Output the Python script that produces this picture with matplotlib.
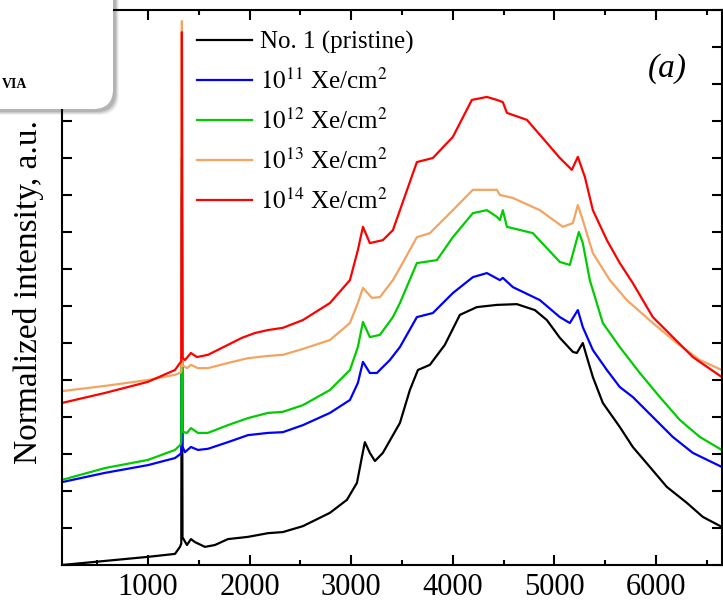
import matplotlib
matplotlib.use("Agg")
import matplotlib.pyplot as plt
from matplotlib.patches import FancyBboxPatch
from matplotlib.transforms import IdentityTransform
from matplotlib.ticker import MultipleLocator, NullFormatter

plt.rcParams['font.family'] = ['Liberation Serif', 'DejaVu Serif']
plt.rcParams['mathtext.fontset'] = 'stix'

# wavenumber (cm-1) / normalized intensity (a.u., offset)
black_x = [154, 577, 1000, 1266, 1315, 1328, 1334, 1340, 1384, 1423, 1462, 1561, 1659,
           1787, 1984, 2181, 2328, 2525, 2791, 2958, 3057, 3106, 3135, 3184, 3234, 3312,
           3480, 3578, 3657, 3775, 3922, 4070, 4237, 4434, 4631, 4808, 4926, 5054, 5182,
           5221, 5280, 5320, 5379, 5477, 5644, 5772, 5940, 6107, 6304, 6461, 6648]
black_y = [0.00, 0.11, 0.22, 0.30, 0.49, 0.58, 9.0, 0.75, 0.54, 0.70, 0.62, 0.49, 0.54,
           0.70, 0.76, 0.86, 0.89, 1.05, 1.41, 1.76, 2.22, 2.92, 3.32, 3.03, 2.81, 3.03,
           3.84, 4.73, 5.27, 5.41, 5.95, 6.76, 6.97, 7.03, 7.05, 6.89, 6.62, 6.14, 5.76,
           5.73, 6.00, 5.62, 5.08, 4.38, 3.73, 3.19, 2.65, 2.11, 1.68, 1.30, 1.03]

blue_x = [154, 577, 1000, 1266, 1320, 1328, 1334, 1340, 1364, 1423, 1492, 1590, 1787,
          1984, 2181, 2328, 2525, 2791, 2988, 3066, 3116, 3184, 3253, 3381, 3480, 3647,
          3804, 4001, 4198, 4336, 4464, 4493, 4592, 4857, 5054, 5152, 5231, 5280, 5379,
          5517, 5644, 5772, 5969, 6166, 6363, 6648]
blue_y = [2.24, 2.49, 2.70, 2.89, 3.00, 3.05, 10.0, 3.20, 3.05, 3.19, 3.11, 3.14, 3.32,
          3.51, 3.57, 3.59, 3.78, 4.11, 4.46, 4.92, 5.49, 5.19, 5.19, 5.54, 5.89, 6.70,
          6.81, 7.35, 7.78, 7.89, 7.70, 7.76, 7.51, 7.16, 6.70, 6.54, 6.89, 6.43, 5.81,
          5.27, 4.81, 4.54, 4.00, 3.46, 3.03, 2.65]

green_x = [154, 577, 1000, 1266, 1320, 1328, 1334, 1340, 1384, 1423, 1492, 1590, 1787,
           1984, 2181, 2328, 2525, 2791, 2988, 3066, 3116, 3184, 3283, 3411, 3480, 3647,
           3844, 4001, 4198, 4336, 4434, 4464, 4493, 4533, 4788, 5054, 5152, 5241, 5280,
           5349, 5477, 5644, 5841, 6038, 6235, 6432, 6648]
green_y = [2.30, 2.62, 2.84, 3.11, 3.25, 3.35, 11.0, 3.60, 3.57, 3.70, 3.57, 3.57, 3.78,
           3.97, 4.11, 4.14, 4.32, 4.73, 5.27, 5.89, 6.57, 6.16, 6.22, 6.70, 7.08, 8.16,
           8.24, 8.86, 9.51, 9.59, 9.41, 9.32, 9.59, 9.14, 8.97, 8.19, 8.11, 9.00, 8.70,
           7.70, 6.54, 5.89, 5.19, 4.54, 3.92, 3.46, 3.11]

orange_x = [154, 577, 1000, 1266, 1320, 1328, 1334, 1340, 1384, 1423, 1492, 1590, 1787,
            1984, 2181, 2328, 2525, 2791, 2988, 3066, 3116, 3204, 3283, 3411, 3480, 3647,
            3775, 4001, 4198, 4434, 4464, 4592, 4857, 5083, 5182, 5231, 5280, 5379, 5546,
            5713, 5969, 6205, 6432, 6648]
orange_y = [4.70, 4.84, 5.00, 5.14, 5.20, 5.25, 14.7, 5.40, 5.32, 5.41, 5.32, 5.32, 5.46,
            5.59, 5.65, 5.68, 5.84, 6.08, 6.54, 7.08, 7.49, 7.22, 7.24, 7.70, 8.03, 8.86,
            8.97, 9.59, 10.14, 10.14, 10.00, 9.92, 9.59, 9.14, 9.24, 9.73, 9.32, 8.43, 7.70,
            7.16, 6.54, 6.00, 5.54, 5.27]

red_x = [154, 577, 1000, 1266, 1315, 1328, 1334, 1340, 1364, 1423, 1482, 1590, 1787,
         1925, 2053, 2181, 2328, 2525, 2791, 2988, 3066, 3116, 3184, 3312, 3411, 3647,
         3804, 4001, 4188, 4336, 4434, 4493, 4533, 4730, 4926, 5054, 5172, 5231, 5300,
         5379, 5517, 5644, 5772, 5969, 6166, 6363, 6648]
red_y = [4.38, 4.65, 4.95, 5.27, 5.46, 5.50, 14.4, 5.60, 5.54, 5.73, 5.62, 5.68, 5.95,
         6.14, 6.27, 6.35, 6.41, 6.62, 7.08, 7.70, 8.51, 9.14, 8.70, 8.78, 9.05, 10.89,
         11.00, 11.57, 12.57, 12.65, 12.57, 12.51, 12.22, 12.03, 11.41, 11.00, 10.68, 11.03,
         10.49, 9.59, 8.78, 8.16, 7.62, 6.70, 6.16, 5.62, 5.08]

labels = ['No. 1 (pristine)', r'$10^{11}$ Xe/cm$^{2}$', r'$10^{12}$ Xe/cm$^{2}$',
          r'$10^{13}$ Xe/cm$^{2}$', r'$10^{14}$ Xe/cm$^{2}$']
colors = ['black', '#0000ff', '#00cc00', '#f4a460', '#ff0000']
series = [(black_x, black_y), (blue_x, blue_y), (green_x, green_y),
          (orange_x, orange_y), (red_x, red_y)]

fig = plt.figure(figsize=(7.23, 6.05), dpi=100)
ax = fig.add_axes([62 / 723, 40 / 605, 660 / 723, 555 / 605])

for (x, y), c, lab in zip(series, colors, labels):
    ax.plot(x, y, color=c, lw=1.6, label=lab)

ax.set_xlim(154, 6650)
ax.set_ylim(0, 15)
ax.xaxis.set_major_locator(MultipleLocator(1000))
ax.xaxis.set_minor_locator(MultipleLocator(500))
ax.yaxis.set_major_locator(MultipleLocator(1))
ax.yaxis.set_major_formatter(NullFormatter())
ax.tick_params(which='both', direction='in', top=True, right=True, width=1.5)
ax.tick_params(which='major', length=7, labelsize=22, pad=6)
ax.tick_params(which='minor', length=3.5)
for s in ax.spines.values():
    s.set_linewidth(1.5)

ax.legend(loc='upper left', bbox_to_anchor=(0.204, 0.962), frameon=False,
          fontsize=18, handlelength=2.2, handletextpad=0.33,
          labelspacing=0.58, borderpad=0, borderaxespad=0)

ax.text(0.917, 0.894, '(a)', transform=ax.transAxes, fontsize=24,
        style='italic', ha='center', va='center')

fig.text(29 / 723, (605 - 292) / 605, 'Normalized intensity, a.u.',
         rotation=90, ha='center', va='center', fontsize=24)

# overlay box at the top-left corner (with soft shadow)
for i, a in enumerate([0.05, 0.07, 0.09, 0.11]):
    off = 6 - i
    fig.add_artist(FancyBboxPatch((-30 + off, 496 - off), 143, 150,
                                  boxstyle='round,pad=0,rounding_size=20',
                                  transform=IdentityTransform(),
                                  fc='black', ec='none', alpha=a, zorder=9))
fig.add_artist(FancyBboxPatch((-30, 496), 143, 150,
                              boxstyle='round,pad=0,rounding_size=20',
                              transform=IdentityTransform(),
                              fc='white', ec='none', zorder=10))
fig.text(2 / 723, (605 - 88) / 605, 'VIA', ha='left', va='baseline',
         fontsize=10, fontweight='bold', zorder=11)

fig.savefig('out.png', dpi=100)
